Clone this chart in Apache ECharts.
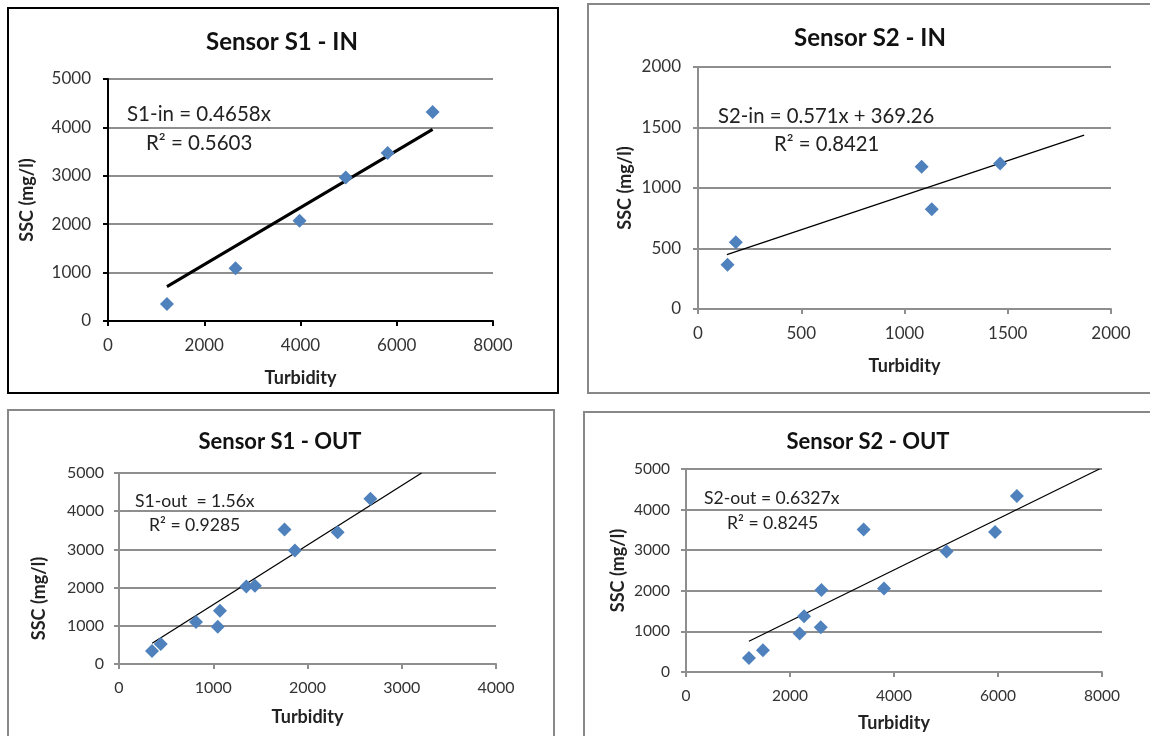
<!DOCTYPE html>
<html>
<head>
<meta charset="utf-8">
<script src="https://cdn.jsdelivr.net/npm/echarts@6/dist/echarts.min.js"></script>
<style>
  html, body { margin: 0; padding: 0; background: #fff; }
  #chart { width: 1150px; height: 736px; }
</style>
</head>
<body>
<div id="chart"></div>
<script>
// Sensor S1 - IN
const s1InTurb = [1225, 2650, 3980, 4940, 5810, 6745];
const s1InSsc = [350, 1090, 2070, 2965, 3470, 4320];
const s1InTrendX = [1225, 6745];
const s1InTrendY = [710, 3960];

// Sensor S2 - IN
const s2InTurb = [143, 183, 1083, 1132, 1463];
const s2InSsc = [365, 552, 1176, 824, 1203];
const s2InTrendX = [140, 1870];
const s2InTrendY = [449, 1437];

// Sensor S1 - OUT
const s1OutTurb = [350, 443, 817, 1048, 1071, 1351, 1442, 1756, 1866, 2320, 2668];
const s1OutSsc = [342, 525, 1100, 972, 1392, 2032, 2049, 3520, 2968, 3450, 4326];
const s1OutTrendX = [352, 3210];
const s1OutTrendY = [545, 5000];

// Sensor S2 - OUT
const s2OutTurb = [1210, 1480, 2185, 2270, 2591, 2605, 3416, 3808, 5011, 5943, 6363];
const s2OutSsc = [346, 535, 947, 1376, 1104, 2018, 3509, 2059, 2965, 3451, 4333];
const s2OutTrendX = [1210, 7950];
const s2OutTrendY = [758, 5000];

const titles = ['Sensor S1 - IN', 'Sensor S2 - IN', 'Sensor S1 - OUT', 'Sensor S2 - OUT'];
const equations = [
  ['S1-in = 0.4658x', 'R² = 0.5603'],
  ['S2-in = 0.571x + 369.26', 'R² = 0.8421'],
  ['S1-out  = 1.56x', 'R² = 0.9285'],
  ['S2-out = 0.6327x', 'R² = 0.8245']
];
const xMax = [8000, 2000, 4000, 8000];
const xStep = [2000, 500, 1000, 2000];
const yMax = [5000, 2000, 5000, 5000];
const yStep = [1000, 500, 1000, 1000];

const FONT = 'Lato, "Liberation Sans", sans-serif';
const BLUE = '#4f81bd';
const GRIDGRAY = '#8e8e8e';

const zip = (xs, ys) => xs.map((x, i) => [x, ys[i]]);
const plain = v => String(v); // pas de séparateur de milliers

const panels = [
  { grid: { left: 108, top: 79, width: 385, height: 242 }, axisColor: '#000', trendWidth: 3,
    xGap: 48, yGap: 72, yPad: 0, labelSize: 17, yMargin: 17, titleSize: 24, title: [282, 42],
    eq: [[127, 114], [146, 143]], eqSize: 20.5 },
  { grid: { left: 698, top: 67, width: 413, height: 242 }, axisColor: GRIDGRAY, trendWidth: 1.3,
    xGap: 48, yGap: 64, yPad: 0, labelSize: 17, yMargin: 17, titleSize: 24, title: [870, 38],
    eq: [[718, 116], [774, 144]], eqSize: 20.3 },
  { grid: { left: 119, top: 473, width: 377, height: 191 }, axisColor: GRIDGRAY, trendWidth: 1.3,
    xGap: 44, yGap: 71, yPad: 60, labelSize: 16, yMargin: 15, titleSize: 22, title: [280, 442],
    eq: [[135, 501], [149, 525]], eqSize: 17.6 },
  { grid: { left: 686, top: 469, width: 416, height: 203 }, axisColor: GRIDGRAY, trendWidth: 1.3,
    xGap: 42, yGap: 59, yPad: 0, labelSize: 15.5, yMargin: 16, titleSize: 22, title: [868, 442],
    eq: [[704, 498], [727, 523]], eqSize: 17.6 }
];

const scatterData = [zip(s1InTurb, s1InSsc), zip(s2InTurb, s2InSsc), zip(s1OutTurb, s1OutSsc), zip(s2OutTurb, s2OutSsc)];
const trendData = [zip(s1InTrendX, s1InTrendY), zip(s2InTrendX, s2InTrendY), zip(s1OutTrendX, s1OutTrendY), zip(s2OutTrendX, s2OutTrendY)];

const chart = echarts.init(document.getElementById('chart'), null, { renderer: 'canvas' });

const option = {
  backgroundColor: '#fff',
  animation: false,
  grid: panels.map(p => p.grid),
  xAxis: panels.map((p, i) => ({
    type: 'value', gridIndex: i, min: 0, max: xMax[i], interval: xStep[i],
    name: 'Turbidity', nameLocation: 'middle', nameGap: p.xGap,
    nameTextStyle: { fontFamily: FONT, fontWeight: 'bold', fontSize: 18, color: '#222' },
    axisLine: { show: true, onZero: false, lineStyle: { color: p.axisColor, width: 2 } },
    axisTick: { show: true, length: 5, lineStyle: { color: p.axisColor, width: 2 } },
    axisLabel: { margin: 16, fontFamily: FONT, fontSize: p.labelSize, color: '#333', formatter: plain },
    splitLine: { show: false }
  })),
  yAxis: panels.map((p, i) => ({
    type: 'value', gridIndex: i, min: 0, max: yMax[i], interval: yStep[i],
    name: 'SSC (mg/l)', nameLocation: 'middle', nameGap: p.yGap,
    nameTextStyle: { fontFamily: FONT, fontWeight: 'bold', fontSize: 18, color: '#222', padding: [0, p.yPad, 0, 0] },
    axisLine: { show: true, lineStyle: { color: p.axisColor, width: 2 } },
    axisTick: { show: true, length: 5, lineStyle: { color: p.axisColor, width: 2 } },
    axisLabel: { margin: p.yMargin, fontFamily: FONT, fontSize: p.labelSize, color: '#333', formatter: plain },
    splitLine: { show: true, lineStyle: { color: GRIDGRAY, width: 2 } }
  })),
  series: [].concat(
    panels.map((p, i) => ({
      type: 'line', xAxisIndex: i, yAxisIndex: i, data: trendData[i],
      symbol: 'none', silent: true, z: 3,
      lineStyle: { color: '#000', width: p.trendWidth }
    })),
    panels.map((p, i) => ({
      type: 'scatter', xAxisIndex: i, yAxisIndex: i, data: scatterData[i],
      symbol: 'diamond', symbolSize: 14, z: 4,
      itemStyle: { color: BLUE, opacity: 1 }
    }))
  ),
  graphic: [
    { type: 'rect', shape: { x: 8, y: 8, width: 550, height: 385 }, style: { fill: 'none', stroke: '#000', lineWidth: 2 }, z: -1 },
    { type: 'rect', shape: { x: 588, y: 4, width: 570, height: 389 }, style: { fill: 'none', stroke: '#888', lineWidth: 2 }, z: -1 },
    { type: 'rect', shape: { x: 8, y: 410, width: 546, height: 340 }, style: { fill: 'none', stroke: '#888', lineWidth: 2 }, z: -1 },
    { type: 'rect', shape: { x: 584, y: 412, width: 580, height: 340 }, style: { fill: 'none', stroke: '#888', lineWidth: 2 }, z: -1 }
  ].concat(
    panels.map((p, i) => ({
      type: 'text', x: p.title[0], y: p.title[1],
      style: { text: titles[i], font: 'bold ' + p.titleSize + 'px ' + FONT, fill: '#111',
        align: 'center', verticalAlign: 'middle', textAlign: 'center', textVerticalAlign: 'middle' }
    })),
    panels.flatMap((p, i) => equations[i].map((t, k) => ({
      type: 'text', x: p.eq[k][0], y: p.eq[k][1],
      style: { text: t, font: p.eqSize + 'px ' + FONT, fill: '#222',
        align: 'left', verticalAlign: 'middle', textAlign: 'left', textVerticalAlign: 'middle' }
    })))
  )
};

chart.setOption(option);
window.addEventListener('resize', chart.resize);
</script>
</body>
</html>
